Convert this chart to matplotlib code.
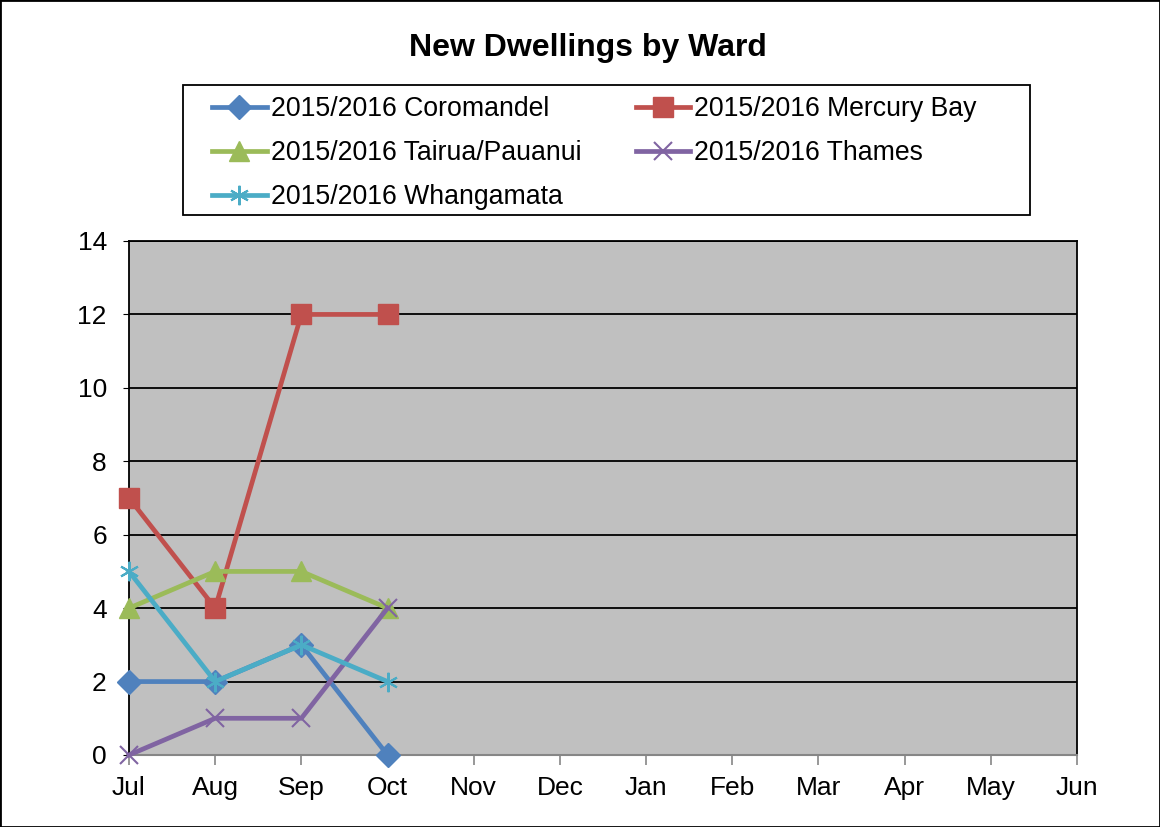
import numpy as np
import matplotlib.pyplot as plt
from matplotlib.patches import Rectangle

plt.rcParams['font.family'] = ['Liberation Sans', 'DejaVu Sans']

months = ["Jul", "Aug", "Sep", "Oct", "Nov", "Dec", "Jan", "Feb", "Mar", "Apr", "May", "Jun"]

coromandel = [2, 2, 3, 0]
mercury_bay = [7, 4, 12, 12]
tairua_pauanui = [4, 5, 5, 4]
thames = [0, 1, 1, 4]
whangamata = [5, 2, 3, 2]

series = [
    ("2015/2016 Coromandel", coromandel, "#4F81BD", "D", 12),
    ("2015/2016 Mercury Bay", mercury_bay, "#C0504D", "s", 14),
    ("2015/2016 Tairua/Pauanui", tairua_pauanui, "#9BBB59", "^", 14),
    ("2015/2016 Thames", thames, "#8064A2", "x", 13),
    ("2015/2016 Whangamata", whangamata, "#4BACC6", (6, 2, 0), 14),
]

fig = plt.figure(figsize=(11.6, 8.27), dpi=100)
ax = fig.add_axes([129 / 1160, 1 - 755 / 827, (1077 - 129) / 1160, (755 - 241) / 827])
ax.set_facecolor("#C0C0C0")

x = np.arange(len(months))
handles = []
for label, vals, color, marker, ms in series:
    h, = ax.plot(x[:len(vals)], vals, color=color, lw=3.4, marker=marker, markersize=ms,
                 markeredgewidth=1.5 if marker in ("x", (6, 2, 0)) else 1,
                 markeredgecolor=color, markerfacecolor=color, label=label,
                 clip_on=False, zorder=3)
    handles.append(h)

ax.set_xlim(0, len(months) - 1)
ax.set_ylim(0, 14)
ax.set_xticks(x)
ax.set_xticklabels(months)
ax.set_yticks(np.arange(0, 15, 2))
ax.tick_params(axis="x", labelsize=19, length=7, color="#868686", pad=8, width=1.2)
ax.tick_params(axis="y", labelsize=19, length=4, color="black", pad=12)
ax.grid(axis="y", color="black", lw=1.3, zorder=1)
ax.set_axisbelow(True)
for side in ("left", "right", "top"):
    ax.spines[side].set_color("black")
    ax.spines[side].set_linewidth(1.3)
ax.spines["bottom"].set_color("#868686")
ax.spines["bottom"].set_linewidth(1.5)

fig.suptitle("New Dwellings by Ward", x=588 / 1160, y=1 - 48 / 827, va="center",
             fontsize=23, fontweight="bold")

# row-wise legend order: fill column-major with reordered handles
order = [0, 2, 4, 1, 3]
leg = fig.legend([handles[i] for i in order], [series[i][0] for i in order],
                 loc="upper left", ncol=2,
                 bbox_to_anchor=(212 / 1160, 1 - 96 / 827),
                 fontsize=19.2, frameon=False,
                 handlelength=2.05, handletextpad=0.15, borderpad=0,
                 labelspacing=0.68, columnspacing=2.05, borderaxespad=0)

fig.patches.append(Rectangle((183 / 1160, 1 - 215 / 827), (1030 - 183) / 1160, 130 / 827,
                             transform=fig.transFigure, fill=False,
                             edgecolor="black", lw=1.3))
fig.patches.append(Rectangle((0, 0), 1, 1, transform=fig.transFigure, fill=False,
                             edgecolor="black", lw=2))

fig.savefig("out.png", dpi=100)
